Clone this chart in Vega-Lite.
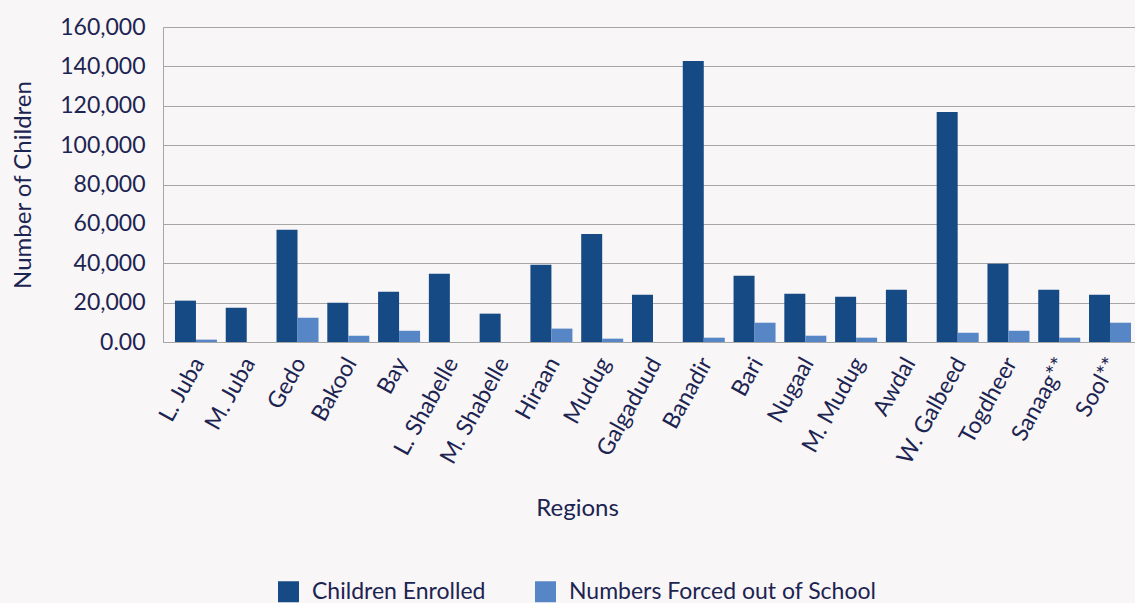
{
  "$schema": "https://vega.github.io/schema/vega-lite/v6.json",
  "width": 972,
  "height": 315,
  "autosize": {"type": "none"},
  "padding": {"left": 163, "top": 27, "right": 0, "bottom": 261},
  "background": "#f9f6f7",
  "config": {"view": {"stroke": null}, "font": "Lato"},
  "data": {
    "values": [
      {"region": "L. Juba", "series": "Children Enrolled", "value": 21000},
      {"region": "L. Juba", "series": "Numbers Forced out of School", "value": 1200},
      {"region": "M. Juba", "series": "Children Enrolled", "value": 17400},
      {"region": "M. Juba", "series": "Numbers Forced out of School", "value": 0},
      {"region": "Gedo", "series": "Children Enrolled", "value": 57000},
      {"region": "Gedo", "series": "Numbers Forced out of School", "value": 12300},
      {"region": "Bakool", "series": "Children Enrolled", "value": 20000},
      {"region": "Bakool", "series": "Numbers Forced out of School", "value": 3200},
      {"region": "Bay", "series": "Children Enrolled", "value": 25500},
      {"region": "Bay", "series": "Numbers Forced out of School", "value": 5700},
      {"region": "L. Shabelle", "series": "Children Enrolled", "value": 34700},
      {"region": "L. Shabelle", "series": "Numbers Forced out of School", "value": 0},
      {"region": "M. Shabelle", "series": "Children Enrolled", "value": 14400},
      {"region": "M. Shabelle", "series": "Numbers Forced out of School", "value": 0},
      {"region": "Hiraan", "series": "Children Enrolled", "value": 39300},
      {"region": "Hiraan", "series": "Numbers Forced out of School", "value": 6800},
      {"region": "Mudug", "series": "Children Enrolled", "value": 54900},
      {"region": "Mudug", "series": "Numbers Forced out of School", "value": 1700},
      {"region": "Galgaduud", "series": "Children Enrolled", "value": 24000},
      {"region": "Galgaduud", "series": "Numbers Forced out of School", "value": 0},
      {"region": "Banadir", "series": "Children Enrolled", "value": 142700},
      {"region": "Banadir", "series": "Numbers Forced out of School", "value": 2200},
      {"region": "Bari", "series": "Children Enrolled", "value": 33700},
      {"region": "Bari", "series": "Numbers Forced out of School", "value": 9800},
      {"region": "Nugaal", "series": "Children Enrolled", "value": 24500},
      {"region": "Nugaal", "series": "Numbers Forced out of School", "value": 3200},
      {"region": "M. Mudug", "series": "Children Enrolled", "value": 23000},
      {"region": "M. Mudug", "series": "Numbers Forced out of School", "value": 2200},
      {"region": "Awdal", "series": "Children Enrolled", "value": 26600},
      {"region": "Awdal", "series": "Numbers Forced out of School", "value": 0},
      {"region": "W. Galbeed", "series": "Children Enrolled", "value": 116800},
      {"region": "W. Galbeed", "series": "Numbers Forced out of School", "value": 4700},
      {"region": "Togdheer", "series": "Children Enrolled", "value": 39800},
      {"region": "Togdheer", "series": "Numbers Forced out of School", "value": 5700},
      {"region": "Sanaag**", "series": "Children Enrolled", "value": 26600},
      {"region": "Sanaag**", "series": "Numbers Forced out of School", "value": 2200},
      {"region": "Sool**", "series": "Children Enrolled", "value": 24000},
      {"region": "Sool**", "series": "Numbers Forced out of School", "value": 9800}
    ]
  },
  "mark": {"type": "bar"},
  "encoding": {
    "x": {
      "field": "region",
      "type": "nominal",
      "sort": null,
      "scale": {"paddingInner": 0.173, "paddingOuter": 0.157, "align": 0.75},
      "axis": {
        "title": "Regions",
        "labelAngle": -61,
        "labelFontSize": 23,
        "labelColor": "#1c2452",
        "labelPadding": 17,
        "labelLimit": 0,
        "labelOffset": 3,
        "ticks": false,
        "domainColor": "#a6a6a6",
        "titleFontSize": 24,
        "titleFontWeight": "normal",
        "titleColor": "#1c2452",
        "titleX": 414,
        "titleY": 173,
        "titleBaseline": "alphabetic",
        "titleAlign": "center"
      }
    },
    "xOffset": {
      "field": "series",
      "type": "nominal",
      "sort": ["Children Enrolled", "Numbers Forced out of School"]
    },
    "y": {
      "field": "value",
      "type": "quantitative",
      "scale": {"domain": [0, 160000], "nice": false},
      "axis": {
        "values": [0, 20000, 40000, 60000, 80000, 100000, 120000, 140000, 160000],
        "labelExpr": "datum.value == 0 ? '0.00' : format(datum.value, ',')",
        "labelFontSize": 23,
        "labelColor": "#1c2452",
        "labelPadding": 18,
        "ticks": false,
        "domainColor": "#a6a6a6",
        "gridColor": "#a6a6a6",
        "title": "Number of Children",
        "titleFontSize": 24,
        "titleFontWeight": "normal",
        "titleColor": "#1c2452",
        "titlePadding": 24
      }
    },
    "color": {
      "field": "series",
      "type": "nominal",
      "scale": {
        "domain": ["Children Enrolled", "Numbers Forced out of School"],
        "range": ["#164a84", "#5686c6"]
      },
      "legend": {
        "orient": "none",
        "legendX": 114,
        "legendY": 553,
        "direction": "horizontal",
        "title": null,
        "symbolType": "square",
        "symbolSize": 441,
        "symbolStrokeWidth": 0,
        "symbolOpacity": 1,
        "labelFontSize": 23,
        "labelLimit": 0,
        "labelColor": "#1c2452",
        "labelOffset": 12,
        "columnPadding": 48
      }
    }
  }
}
